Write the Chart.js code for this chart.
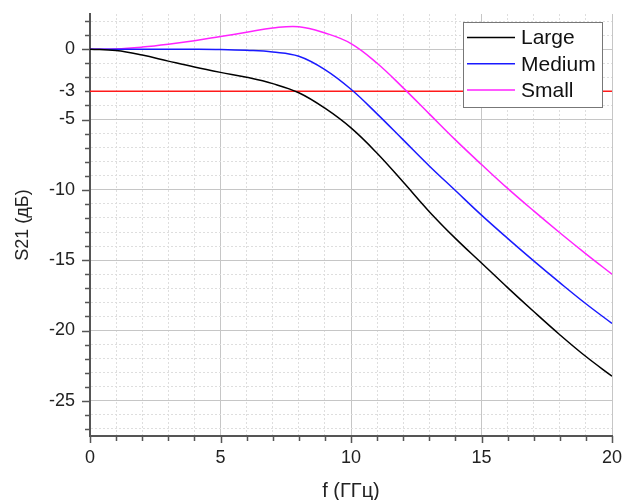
<!DOCTYPE html>
<html>
<head>
<meta charset="utf-8">
<script src="https://cdn.jsdelivr.net/npm/chart.js@4/dist/chart.umd.min.js"></script>
<style>
  html, body { margin: 0; padding: 0; background: #ffffff; }
  #wrap { width: 623px; height: 500px; }
</style>
</head>
<body>
<div id="wrap"><canvas id="c" width="623" height="500"></canvas></div>
<script>
// Frequency grid (GHz) and measured transmission S21 (dB) for three sizes
const freq   = [0, 1, 2, 3, 4, 5, 6, 7, 8, 9, 10, 11, 12, 13, 14, 15, 16, 17, 18, 19, 20];
const large  = [0, -0.1, -0.42, -0.85, -1.27, -1.65, -2.0, -2.45, -3.1, -4.2, -5.6, -7.4, -9.45, -11.55, -13.45, -15.2, -16.95, -18.65, -20.3, -21.85, -23.25];
const medium = [0, 0, 0, 0, 0, -0.02, -0.08, -0.2, -0.5, -1.45, -2.85, -4.6, -6.45, -8.3, -10.05, -11.8, -13.45, -15.05, -16.6, -18.1, -19.5];
const small  = [0, 0.02, 0.15, 0.35, 0.6, 0.9, 1.2, 1.5, 1.6, 1.15, 0.4, -1.0, -2.75, -4.6, -6.45, -8.2, -9.9, -11.5, -13.05, -14.55, -16.0];
const seriesNames = ['Large', 'Medium', 'Small'];
const refLevel = -3;                       // -3 dB cutoff level
const yTickLabels = [0, -3, -5, -10, -15, -20, -25];
const xTickLabels = [0, 5, 10, 15, 20];

const toPoints = (ys) => freq.map((f, i) => ({ x: f, y: ys[i] }));
const range = (a, b) => { const r = []; for (let v = a; v <= b; v++) r.push({ value: v }); return r; };
const isMajor = (v) => v % 5 === 0;
const noPad = (axis) => { axis.paddingTop = 0; axis.paddingBottom = 0; axis.paddingLeft = 0; axis.paddingRight = 0; };

// Outward ticks: long at major values, short at the minor ones
const tickMarks = {
  id: 'tickMarks',
  afterDraw(chart) {
    const { ctx, scales: { x, y }, chartArea: a } = chart;
    ctx.save();
    ctx.strokeStyle = '#555';
    ctx.lineWidth = 1.5;
    ctx.beginPath();
    y.ticks.forEach(t => {
      const py = Math.round(y.getPixelForValue(t.value)) + 0.5;
      const len = isMajor(t.value) ? 8 : 5;
      ctx.moveTo(a.left, py); ctx.lineTo(a.left - len, py);
    });
    x.ticks.forEach(t => {
      const px = Math.round(x.getPixelForValue(t.value)) + 0.5;
      const len = isMajor(t.value) ? 7 : 5;
      ctx.moveTo(px, a.bottom); ctx.lineTo(px, a.bottom + len);
    });
    ctx.stroke();
    ctx.restore();
  }
};

// Framed legend in the top-right corner of the plot
const boxLegend = {
  id: 'boxLegend',
  afterDraw(chart) {
    const { ctx } = chart;
    const items = chart.data.datasets.filter(d => d.label);
    const bx = 463, by = 22, bw = 139, bh = 85, rowH = 26.3;
    ctx.save();
    ctx.fillStyle = '#ffffff';
    ctx.fillRect(bx, by, bw, bh);
    ctx.strokeStyle = '#777';
    ctx.lineWidth = 1;
    ctx.strokeRect(bx + 0.5, by + 0.5, bw, bh);
    ctx.font = '21px "Liberation Sans", Arial, sans-serif';
    ctx.textBaseline = 'middle';
    items.forEach((d, i) => {
      const cy = by + 15.5 + i * rowH;
      ctx.strokeStyle = d.borderColor;
      ctx.lineWidth = 1.5;
      ctx.beginPath();
      ctx.moveTo(467, cy); ctx.lineTo(515, cy);
      ctx.stroke();
      ctx.fillStyle = '#111';
      ctx.fillText(d.label, 521, cy + 1);
    });
    ctx.restore();
  }
};

const gridColor = (ctx) => (ctx.tick && isMajor(ctx.tick.value)) ? '#c6c6c6' : '#dedede';
const gridDash = (ctx) => (ctx.tick && !isMajor(ctx.tick.value)) ? [2, 2] : [];

new Chart(document.getElementById('c'), {
  type: 'line',
  data: {
    datasets: [
      { label: seriesNames[0], data: toPoints(large),  borderColor: '#000000' },
      { label: seriesNames[1], data: toPoints(medium), borderColor: '#1a1aff' },
      { label: seriesNames[2], data: toPoints(small),  borderColor: '#ff22ff' },
      { label: '', data: [{ x: freq[0], y: refLevel }, { x: freq[freq.length - 1], y: refLevel }],
        borderColor: '#ff1a1a', tension: 0 }
    ]
  },
  options: {
    responsive: false,
    animation: false,
    devicePixelRatio: 1,
    layout: { padding: { top: 14, right: 11, left: 0, bottom: 0 } },
    elements: {
      point: { radius: 0 },
      line: { borderWidth: 1.5, tension: 0.4, fill: false }
    },
    plugins: { legend: { display: false }, tooltip: { enabled: false } },
    scales: {
      x: {
        type: 'linear', min: 0, max: 20,
        afterBuildTicks: (axis) => { axis.ticks = range(0, 20); },
        afterFit: (axis) => { axis.height = 64; noPad(axis); },
        ticks: {
          autoSkip: false, maxRotation: 0, padding: 11, color: '#222',
          font: { family: '"Liberation Sans", Arial, sans-serif', size: 18 },
          callback: (v) => xTickLabels.includes(v) ? String(v) : ''
        },
        grid: { color: gridColor, lineWidth: 1, drawTicks: false },
        border: { display: true, color: '#555', width: 2, dash: gridDash },
        title: {
          display: true, text: 'f (ГГц)', color: '#222',
          font: { family: '"Liberation Sans", Arial, sans-serif', size: 20 },
          padding: { top: 0, bottom: -3 }
        }
      },
      y: {
        type: 'linear', min: -27.5, max: 2.5,
        afterBuildTicks: (axis) => { axis.ticks = range(-27, 2); },
        afterFit: (axis) => { axis.width = 90; noPad(axis); },
        ticks: {
          autoSkip: false, padding: 15, color: '#222',
          font: { family: '"Liberation Sans", Arial, sans-serif', size: 18 },
          callback: (v) => yTickLabels.includes(v) ? String(v) : ''
        },
        grid: { color: gridColor, lineWidth: 1, drawTicks: false },
        border: { display: true, color: '#555', width: 2, dash: gridDash },
        title: {
          display: true, text: 'S21 (дБ)', color: '#222',
          font: { family: '"Liberation Sans", Arial, sans-serif', size: 18 },
          padding: { top: 12, bottom: 0 }
        }
      }
    }
  },
  plugins: [tickMarks, boxLegend]
});
</script>
</body>
</html>
